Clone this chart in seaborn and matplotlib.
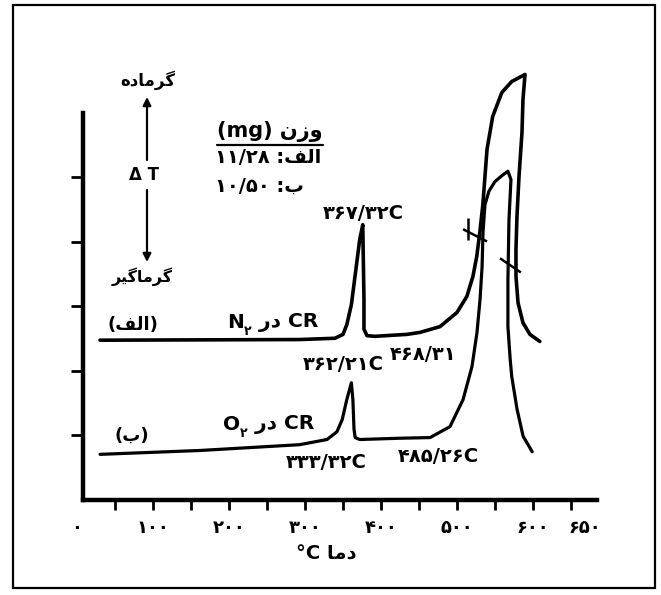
import matplotlib
matplotlib.use("Agg")
import matplotlib.pyplot as plt
import matplotlib.transforms as mtransforms
from matplotlib.lines import Line2D
from matplotlib.patches import Rectangle
import pandas as pd
import seaborn as sns

# ---------------- data ----------------
# curve (الف): CR in N2
temp_A = [30.3, 293, 339.5, 350, 355, 361, 367, 372, 376, 377.6, 377.6, 381.6, 392,
          434, 451, 477.6, 500, 513, 521, 526, 530, 534, 539.5, 547, 559, 572, 589.5,
          586.8, 585.5, 581.6, 578.9, 577.6, 577.6, 580.3, 586.8, 596, 609]
dT_A = [2.47, 2.48, 2.50, 2.56, 2.71, 3.02, 3.57, 4.03, 4.26, 3.10, 2.64, 2.54, 2.53,
        2.56, 2.59, 2.68, 2.90, 3.15, 3.46, 3.77, 4.14, 4.57, 5.43, 5.94, 6.31, 6.48, 6.59,
        6.20, 5.69, 5.01, 4.39, 3.88, 3.46, 3.05, 2.74, 2.56, 2.45]
# curve (ب): CR in O2
temp_B = [30.3, 162, 293, 329, 342, 349, 355, 361, 363, 364.5, 366, 372, 425, 464.5,
          490.8, 508, 519.7, 526.3, 530.3, 533, 534.2, 536.8, 542, 550, 559, 567, 571,
          568.4, 567, 567, 570, 572, 579, 587, 599]
dT_B = [0.70, 0.76, 0.85, 0.93, 1.05, 1.24, 1.55, 1.81, 1.55, 1.09, 0.96, 0.93, 0.95, 0.96,
        1.13, 1.55, 2.06, 2.59, 3.10, 3.61, 4.14, 4.57, 4.78, 4.93, 5.02, 5.09, 4.96,
        4.34, 3.41, 2.68, 2.17, 1.91, 1.40, 0.98, 0.74]
# small onset marks drawn across the curves
mark_x = [[514.5, 514.5], [508, 539.5], [556.6, 584]]
mark_y = [[4.37, 4.03], [4.19, 4.00], [3.74, 3.52]]

xtick_vals = [0, 100, 200, 300, 400, 500, 600, 650]
xtick_labels = ["۰", "۱۰۰", "۲۰۰", "۳۰۰", "۴۰۰", "۵۰۰", "۶۰۰", "۶۵۰"]
xminor_vals = [50, 150, 250, 350, 450, 550]
ytick_vals = [1, 2, 3, 4, 5]

peak_labels = ["۳۶۷/۳۲C", "۳۶۲/۲۱C", "۴۶۸/۳۱", "۳۳۳/۳۲C", "۴۸۵/۲۶C"]
curve_names = ["(الف)", "(ب)"]
gas_labels = ["N", "O"]
gas_rest = "CR در"
weight_title = "وزن (mg)"
weight_rows = ["الف: ۱۱/۲۸", "ب: ۱۰/۵۰"]
exo_label = "گرماده"
endo_label = "گرماگیر"
x_label = "دما °C"

# ------------- minimal Arabic shaping + bidi -------------
FORMS = {
    'ا': (0xFE8D, 0xFE8E), 'د': (0xFEA9, 0xFEAA), 'ر': (0xFEAD, 0xFEAE),
    'ز': (0xFEAF, 0xFEB0), 'و': (0xFEED, 0xFEEE),
    'ب': (0xFE8F, 0xFE90, 0xFE91, 0xFE92), 'ف': (0xFED1, 0xFED2, 0xFED3, 0xFED4),
    'ل': (0xFEDD, 0xFEDE, 0xFEDF, 0xFEE0), 'م': (0xFEE1, 0xFEE2, 0xFEE3, 0xFEE4),
    'ن': (0xFEE5, 0xFEE6, 0xFEE7, 0xFEE8), 'ه': (0xFEE9, 0xFEEA, 0xFEEB, 0xFEEC),
    'ی': (0xFBFC, 0xFBFD, 0xFBFE, 0xFBFF), 'گ': (0xFB92, 0xFB93, 0xFB94, 0xFB95),
}


def shape(s):
    out = []
    for i, c in enumerate(s):
        if c not in FORMS:
            out.append(c)
            continue
        prev = s[i - 1] if i > 0 else ''
        nxt = s[i + 1] if i + 1 < len(s) else ''
        jp = prev in FORMS and len(FORMS[prev]) == 4
        jn = len(FORMS[c]) == 4 and nxt in FORMS
        f = FORMS[c]
        if jp and jn:
            out.append(chr(f[3]))
        elif jp:
            out.append(chr(f[1]))
        elif jn:
            out.append(chr(f[2]))
        else:
            out.append(chr(f[0]))
    return ''.join(out)


def _cls(c):
    if c in FORMS or 0xFB50 <= ord(c) <= 0xFEFF:
        return 'R'
    if c.isdigit() or c == '/':
        return 'N'
    if c.isalpha() or c == '°':
        return 'L'
    return 'W'


MIRROR = {'(': ')', ')': '('}


def rtl(s):
    s = shape(s)
    cl = [_cls(c) for c in s]
    last = 'R'
    for i, c in enumerate(cl):
        if c in 'LR':
            last = c
        elif c == 'N' and last == 'L':
            cl[i] = 'L'
    strong = ['R' if c == 'N' else c for c in cl]
    lv = []
    for i, c in enumerate(cl):
        if c == 'W':
            p = next((strong[j] for j in range(i - 1, -1, -1) if strong[j] != 'W'), 'R')
            n = next((strong[j] for j in range(i + 1, len(s)) if strong[j] != 'W'), 'R')
            lv.append(2 if (p == 'L' and n == 'L') else 1)
        elif c == 'R':
            lv.append(1)
        else:
            lv.append(2)
    chars = [MIRROR.get(c, c) if l == 1 else c for c, l in zip(s, lv)]
    idx = list(range(len(chars)))
    i = 0
    while i < len(idx):
        if lv[idx[i]] >= 2:
            j = i
            while j < len(idx) and lv[idx[j]] >= 2:
                j += 1
            idx[i:j] = idx[i:j][::-1]
            i = j
        else:
            i += 1
    idx = idx[::-1]
    return ''.join(chars[k] for k in idx)


# ---------------- figure ----------------
sns.set_theme(style="ticks")
plt.rcParams['font.family'] = ['DejaVu Sans']
plt.rcParams['font.weight'] = 'bold'
plt.rcParams['text.color'] = 'black'
plt.rcParams['axes.labelcolor'] = 'black'
plt.rcParams['xtick.color'] = 'black'
plt.rcParams['ytick.color'] = 'black'

W, H = 661, 595
fig = plt.figure(figsize=(W / 100, H / 100), dpi=100)
fig.patch.set_facecolor('white')


def fx(x):
    return x / W


def fy(y):
    return 1 - y / H


x0, x1 = -5, 684
y0, y1 = 0, 6.82
px_left = 77 + x0 * 0.76
px_right = 77 + x1 * 0.76
px_bottom = 499.5
px_top = px_bottom - y1 * 64.5
ax = fig.add_axes([fx(px_left), fy(px_bottom), (px_right - px_left) / W,
                   (px_bottom - px_top) / H])
ax.set_facecolor('none')

dfA = pd.DataFrame({'temp': temp_A, 'dT': dT_A})
dfB = pd.DataFrame({'temp': temp_B, 'dT': dT_B})
sns.lineplot(data=dfA, x='temp', y='dT', sort=False, estimator=None, color='black',
             lw=2.6, ax=ax)
sns.lineplot(data=dfB, x='temp', y='dT', sort=False, estimator=None, color='black',
             lw=2.3, ax=ax)
for mx, my in zip(mark_x, mark_y):
    ax.plot(mx, my, color='black', lw=1.8, solid_capstyle='butt')

ax.set_xlim(x0, x1)
ax.set_ylim(y0, y1)
for s in ['top', 'right']:
    ax.spines[s].set_visible(False)
ax.spines['left'].set_position(('data', 8))
ax.spines['left'].set_bounds(0, 6.0)
ax.spines['bottom'].set_bounds(8, 684)
for s in ['left', 'bottom']:
    ax.spines[s].set_linewidth(3.2)
    ax.spines[s].set_color('black')

ax.set_xticks(xtick_vals)
ax.set_xticklabels(xtick_labels, fontsize=13, fontweight='bold')
ax.set_xticks(xminor_vals, minor=True)
ax.set_yticks(ytick_vals)
ax.set_yticklabels([])
ax.tick_params(axis='x', which='both', direction='out', length=7, width=2,
               pad=7, color='black', labelcolor='black')
ax.tick_params(axis='y', direction='out', length=9, width=2, color='black')
ax.xaxis.get_major_ticks()[0].tick1line.set_visible(False)
lab650 = ax.get_xticklabels()[-1]
lab650.set_transform(lab650.get_transform() +
                     mtransforms.ScaledTranslation(0.14, 0, fig.dpi_scale_trans))

ax.set_xlabel(rtl(x_label), fontsize=14, fontweight='bold', color='black')
ax.xaxis.set_label_coords((326 - px_left) / (px_right - px_left),
                          -(554 - px_bottom) / (px_bottom - px_top))
ax.xaxis.label.set_va('center')
ax.set_ylabel('')

TXT = dict(fontsize=14, fontweight='bold', color='black', ha='center', va='center')

# peak labels
for lab, (px, py) in zip(peak_labels, [(363, 213), (343, 364), (423, 354), (326, 462), (438, 457)]):
    fig.text(fx(px), fy(py), rtl(lab), **TXT)

# curve names
for lab, (px, py) in zip(curve_names, [(133, 325), (132, 436)]):
    fig.text(fx(px), fy(py), rtl(lab), fontsize=13, fontweight='bold', color='black',
             ha='center', va='center')

# gas labels: N/O with subscript ۲, then "در CR"
for g, (px, py) in zip(gas_labels, [(227, 323), (223, 425)]):
    tg = fig.text(fx(px), fy(py), g, fontsize=14.5, fontweight='bold', ha='left',
                  va='center', color='black')
    ts = ax.annotate("۲", xy=(1.0, 0.05), xycoords=tg, fontsize=9, fontweight='bold',
                     ha='left', va='center', color='black')
    ax.annotate(" " + rtl(gas_rest), xy=(1.0, 0.5), xycoords=ts,
                fontsize=14.5, fontweight='bold', ha='left', va='bottom', color='black')

# weight table
fig.text(fx(270), fy(132), rtl(weight_title), fontsize=15, fontweight='bold',
         color='black', ha='center', va='center')
fig.add_artist(Line2D([fx(217), fx(323)], [fy(145), fy(145)], color='black', lw=1.6,
                      transform=fig.transFigure))
for lab, py in zip(weight_rows, [158, 186]):
    fig.text(fx(215), fy(py), rtl(lab), fontsize=14, fontweight='bold', ha='left',
             va='center', color='black')

# exo / endo indicator
fig.text(fx(148), fy(80), rtl(exo_label), fontsize=12, fontweight='bold',
         color='black', ha='center', va='center')
fig.text(fx(144), fy(175), "Δ T", fontsize=12, fontweight='bold', color='black',
         ha='center', va='center')
fig.text(fx(142), fy(277), rtl(endo_label), fontsize=11.5, fontweight='bold',
         color='black', ha='center', va='center')
ax.annotate("", xy=(fx(147), fy(97)), xytext=(fx(147), fy(160)),
            xycoords='figure fraction', textcoords='figure fraction',
            arrowprops=dict(arrowstyle='-|>', color='black', lw=1.6,
                            mutation_scale=12, shrinkA=0, shrinkB=0))
ax.annotate("", xy=(fx(147), fy(262)), xytext=(fx(147), fy(190)),
            xycoords='figure fraction', textcoords='figure fraction',
            arrowprops=dict(arrowstyle='-|>', color='black', lw=1.6,
                            mutation_scale=12, shrinkA=0, shrinkB=0))

# outer frame
fig.add_artist(Rectangle((fx(13), fy(588)), (655 - 13) / W, (588 - 5) / H, fill=False,
                         lw=1.6, edgecolor='black', transform=fig.transFigure))

fig.savefig("out.png", dpi=100)
